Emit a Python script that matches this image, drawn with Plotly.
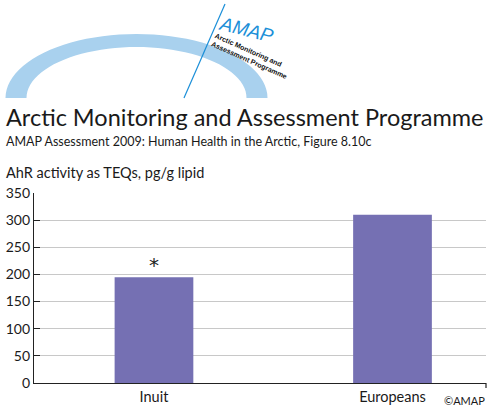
import plotly.graph_objects as go
import math

categories = ["Inuit", "Europeans"]
values = [195, 310]
markers = ["*", ""]
y_ticks = [0, 50, 100, 150, 200, 250, 300, 350]

W, H = 504, 415
L, R, T, B = 34, 18, 193, 32
pw, ph = W - L - R, H - T - B

def px(x):
    return (x - L) / pw

def py(y):
    return (H - B - y) / ph

bar_color = "#7570b3"
font = "Lato"

fig = go.Figure()
fig.add_trace(go.Bar(x=categories, y=values, marker=dict(color=bar_color, line=dict(width=0)),
                     width=0.33, hoverinfo="x+y"))

for c, v, m in zip(categories, values, markers):
    if m:
        fig.add_annotation(x=c, y=v, text=m, showarrow=False, yshift=12,
                           font=dict(size=20, color="#222", family="DejaVu Sans"))

def arc_path(cx, cy, rx, ry, rx2, ry2):
    pts_out, pts_in = [], []
    n = 48
    for i in range(n + 1):
        t = math.pi * i / n
        pts_out.append((cx - rx * math.cos(t), cy - ry * math.sin(t)))
    for i in range(n, -1, -1):
        t = math.pi * i / n
        pts_in.append((cx - rx2 * math.cos(t), cy - ry2 * math.sin(t)))
    pts = pts_out + pts_in
    return "M " + " L ".join(f"{px(x):.4f},{py(y):.4f}" for x, y in pts) + " Z"

shapes = [
    dict(type="path", xref="paper", yref="paper",
         path=arc_path(136.5, 98, 131, 64, 110, 51),
         fillcolor="#a9d1ee", line=dict(width=0), layer="above"),
    dict(type="line", xref="paper", yref="paper",
         x0=px(225), y0=py(4), x1=px(184), y1=py(98),
         line=dict(color="#1b8fd8", width=1.2)),
    dict(type="line", xref="paper", yref="paper",
         x0=1, y0=0, x1=1, y1=-5 / ph,
         line=dict(color="#222", width=1.2)),
]
fig.update_layout(shapes=shapes)

fig.add_annotation(xref="paper", yref="paper", x=px(246), y=py(29), text="<i>AMAP</i>",
                   showarrow=False, xanchor="center", yanchor="middle", textangle=14,
                   font=dict(size=19, color="#1b8fd8", family="Liberation Sans"))
fig.add_annotation(xref="paper", yref="paper", x=px(251), y=py(56),
                   text="<b>Arctic Monitoring and<br>Assessment Programme</b>",
                   showarrow=False, xanchor="center", yanchor="middle", textangle=24, align="left",
                   font=dict(size=7, color="#111", family="Liberation Sans"))

fig.add_annotation(xref="paper", yref="paper", x=px(4), y=py(117),
                   text="Arctic Monitoring and Assessment Programme",
                   showarrow=False, xanchor="left", yanchor="middle",
                   font=dict(size=23.5, color="#1a1a1a", family=font))
fig.add_annotation(xref="paper", yref="paper", x=px(4), y=py(141),
                   text="AMAP Assessment 2009: Human Health in the Arctic, Figure 8.10c",
                   showarrow=False, xanchor="left", yanchor="middle",
                   font=dict(size=12.5, color="#1a1a1a", family=font))
fig.add_annotation(xref="paper", yref="paper", x=px(4), y=py(173),
                   text="AhR activity as TEQs, pg/g lipid",
                   showarrow=False, xanchor="left", yanchor="middle",
                   font=dict(size=14.5, color="#1a1a1a", family=font))
fig.add_annotation(xref="paper", yref="paper", x=px(487), y=py(400),
                   text="©AMAP", showarrow=False, xanchor="right", yanchor="middle",
                   font=dict(size=11, color="#1a1a1a", family=font))

fig.update_layout(
    width=W, height=H,
    margin=dict(l=L, r=R, t=T, b=B, pad=0, autoexpand=False),
    paper_bgcolor="white", plot_bgcolor="white",
    showlegend=False,
    font=dict(family=font, color="#1a1a1a"),
    xaxis=dict(range=[-0.503, 1.392], showline=True, linecolor="#222", linewidth=1.2,
               ticks="", showgrid=False, tickfont=dict(size=14.5), fixedrange=True,
               automargin=False),
    yaxis=dict(range=[0, 350], tickvals=y_ticks, showline=True, linecolor="#222", linewidth=1.2,
               ticks="inside", ticklen=6, tickcolor="#222", tickwidth=1.2,
               showgrid=True, gridcolor="#c8c8c8", gridwidth=1,
               tickfont=dict(size=14), zeroline=False, fixedrange=True, automargin=False),
)

fig.write_html("out.html", config={"displayModeBar": False},
               post_script="document.body.style.margin='0px';")
